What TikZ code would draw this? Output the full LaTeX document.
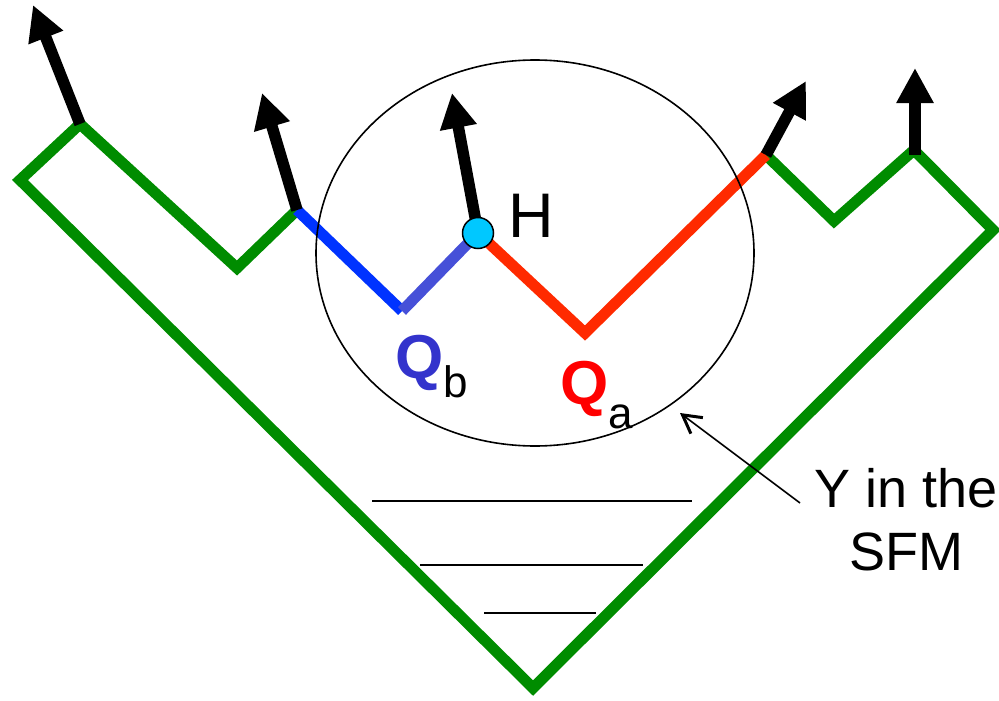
\documentclass[tikz,border=0pt]{standalone}
\usepackage{fontspec}
\setmainfont{Liberation Sans}
\usetikzlibrary{arrows.meta,shapes.geometric}
\definecolor{tgreen}{RGB}{0,140,0}
\definecolor{sblue}{RGB}{0,51,255}
\definecolor{lblue}{RGB}{70,80,216}
\definecolor{sred}{RGB}{255,42,0}
\definecolor{qbcol}{RGB}{51,51,204}
\definecolor{qacol}{RGB}{255,0,0}
\definecolor{hcyan}{RGB}{0,200,255}
\begin{document}
\begin{tikzpicture}[x=1pt,y=-1pt,
  chainline/.style={line width=11pt, line join=miter},
  spin/.style={line width=11.5pt, -{Triangle[length=35pt,width=35pt]}},
  ruleline/.style={line width=1.8pt},
  big/.style={font=\fontsize{63}{66}\selectfont, inner sep=0}]
\useasboundingbox (0,0) rectangle (999,701);
% chain vertices
\coordinate (p1) at (20,180);
\coordinate (p2) at (80,124);
\coordinate (p3) at (237,268);
\coordinate (p4) at (297,210);
\coordinate (p5) at (402,311);
\coordinate (p6) at (478,233);
\coordinate (p7) at (585,333);
\coordinate (p8) at (766,155);
\coordinate (p9) at (834,221);
\coordinate (p10) at (914,150);
\coordinate (p11) at (993,230);
\coordinate (p12) at (533,688);
% arrow tips
\coordinate (t1) at (33,5);
\coordinate (t2) at (262,93);
\coordinate (t3) at (452,93);
\coordinate (t4) at (806,81);
\coordinate (t5) at (915,68);
\coordinate (b5) at (915,155);
% chain
\draw[chainline,tgreen] (p4)--(p3)--(p2)--(p1)--(p12)--(p11)--(p10)--(p9)--(p8);
\draw[chainline,sblue] (p4)--(p5);
\draw[chainline,lblue] (p5)--(p6);
\draw[chainline,sred] (p6)--(p7)--(p8);
% spins
\draw[spin] (p2)--(t1);
\draw[spin] (p4)--(t2);
\draw[spin] (p6)--(t3);
\draw[spin] (p8)--(t4);
\draw[spin] (b5)--(t5);
% horizontal lines
\draw[ruleline] (372,501) -- (692,501);
\draw[ruleline] (420,565) -- (643,565);
\draw[ruleline] (484,613) -- (596,613);
% ellipse
\node[draw, ellipse, line width=1.6pt, minimum width=438pt, minimum height=386pt, inner sep=0] (ring) at (535,253) {};
% annotation
\coordinate (ys) at (800,503);
\coordinate (ye) at (680,413);
\draw[line width=1.6pt, -{Straight Barb[length=18pt,width=20pt,line width=3pt]}] (ys) -- (ye);
\node[font=\fontsize{54}{60}\selectfont, inner sep=0, anchor=base] (ylab1) at (906,507) {Y in the};
\node[font=\fontsize{54}{60}\selectfont, inner sep=0, anchor=base] (ylab2) at (906,570) {SFM};
% H site
\node[circle, draw, line width=1.5pt, fill=hcyan, minimum size=31pt, inner sep=0] (hdot) at (p6) {};
\node[big, anchor=base west] (hlab) at (508,237) {H};
% labels
\node[anchor=base west, inner sep=0, text=qbcol] (qb) at (395,378) {\fontsize{62}{66}\selectfont\bfseries Q\color{black}\fontsize{44}{48}\mdseries\selectfont\raisebox{-19pt}{b}};
\node[anchor=base west, inner sep=0, text=qacol] (qa) at (560,404) {\fontsize{62}{66}\selectfont\bfseries Q\color{black}\fontsize{44}{48}\mdseries\selectfont\raisebox{-24pt}{a}};
\end{tikzpicture}
\end{document}
